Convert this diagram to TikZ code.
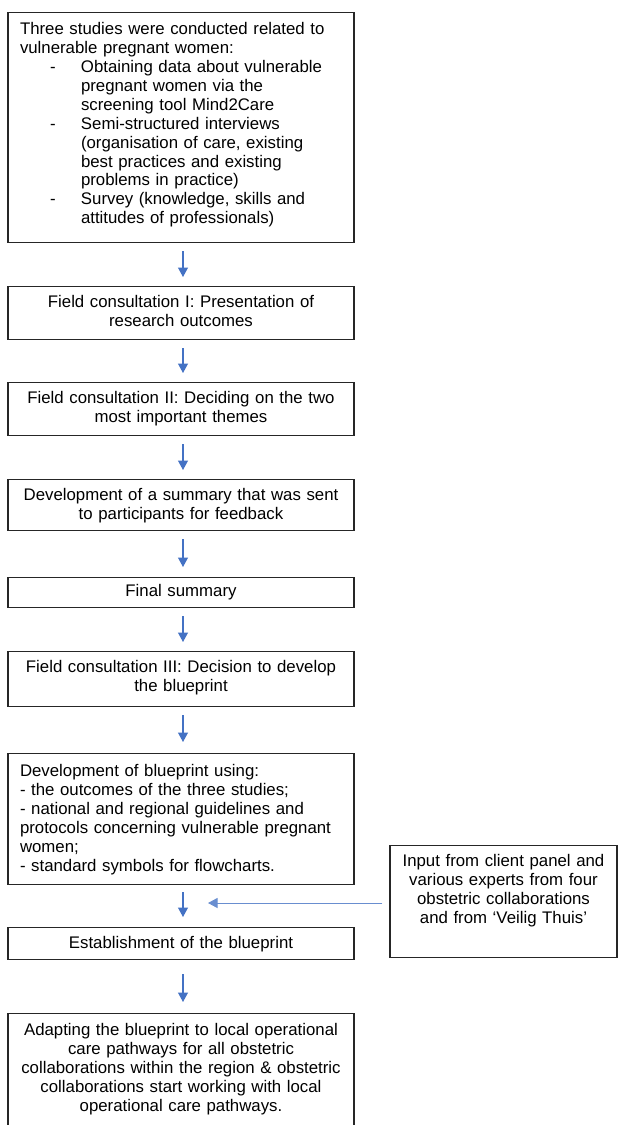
\documentclass[tikz,border=0pt]{standalone}
\usepackage{fontspec}
\setmainfont{Liberation Sans}
\usetikzlibrary{arrows.meta}
\definecolor{arrowblue}{HTML}{4472C4}
\begin{document}
\begin{tikzpicture}[x=1pt,y=-1pt,
  box/.style={draw=black!85, line width=1.4pt, inner ysep=0pt, inner xsep=8pt,
    text width=330pt, align=center, anchor=north,
    font=\fontsize{16.8}{18.9}\selectfont},
  lbox/.style={box, inner xsep=12pt, text width=322pt, align=left},
  sidebox/.style={box, text width=211pt},
  arr/.style={draw=arrowblue, line width=1.2pt, -{Triangle[width=10pt,length=9.5pt]}},
  hline/.style={draw=arrowblue!80, line width=1pt, -{Triangle[width=10pt,length=9.5pt]}},
]
\useasboundingbox (0,0) rectangle (619,1125);
\coordinate (ax) at (183,0);
\coordinate (join) at (208,903);

\node[lbox, text height=22pt, text depth=208pt] (b1) at (181,12) {%
Three studies were conducted related to\\
vulnerable pregnant women:\\
\hspace*{30pt}\makebox[31pt][l]{-}Obtaining data about vulnerable\\
\hspace*{61pt}pregnant women via the\\
\hspace*{61pt}screening tool Mind2Care\\
\hspace*{30pt}\makebox[31pt][l]{-}Semi-structured interviews\\
\hspace*{61pt}(organisation of care, existing\\
\hspace*{61pt}best practices and existing\\
\hspace*{61pt}problems in practice)\\
\hspace*{30pt}\makebox[31pt][l]{-}Survey (knowledge, skills and\\
\hspace*{61pt}attitudes of professionals)};

\node[box, text height=21pt, text depth=32pt] (b2) at (181,286)
  {Field consultation I: Presentation of\\research outcomes};
\node[box, text height=21pt, text depth=32pt] (b3) at (181,382)
  {Field consultation II: Deciding on the two\\most important themes};
\node[box, text height=21pt, text depth=30pt] (b4) at (181,479)
  {Development of a summary that was sent\\to participants for feedback};
\node[box, text height=19pt, text depth=11pt] (b5) at (181,577)
  {Final summary};
\node[box, text height=21pt, text depth=34pt] (b6) at (181,651)
  {Field consultation III: Decision to develop\\the blueprint};
\node[lbox, text height=23pt, text depth=108pt] (b7) at (181,753) {%
Development of blueprint using:\\
- the outcomes of the three studies;\\
- national and regional guidelines and\\
protocols concerning vulnerable pregnant\\
women;\\
- standard symbols for flowcharts.};
\node[box, text height=21pt, text depth=11pt] (b8) at (181,927)
  {Establishment of the blueprint};
\node[box, text height=22pt, text depth=105pt] (b9) at (181,1013)
  {Adapting the blueprint to local operational\\
   care pathways for all obstetric\\
   collaborations within the region \& obstetric\\
   collaborations start working with local\\
   operational care pathways.};

\node[sidebox, text height=21pt, text depth=91pt] (side) at (503.5,845)
  {Input from client panel and\\
   various experts from four\\
   obstetric collaborations\\
   and from ‘Veilig Thuis’};

\draw[arr, shorten <=8pt, shorten >=9pt] (b1.south -| ax) -- (b2.north -| ax);
\draw[arr, shorten <=8pt, shorten >=9pt] (b2.south -| ax) -- (b3.north -| ax);
\draw[arr, shorten <=8pt, shorten >=9pt] (b3.south -| ax) -- (b4.north -| ax);
\draw[arr, shorten <=8pt, shorten >=10pt] (b4.south -| ax) -- (b5.north -| ax);
\draw[arr, shorten <=8pt, shorten >=9pt] (b5.south -| ax) -- (b6.north -| ax);
\draw[arr, shorten <=8pt, shorten >=11pt] (b6.south -| ax) -- (b7.north -| ax);
\draw[arr, shorten <=7pt, shorten >=10pt] (b7.south -| ax) -- (b8.north -| ax);
\draw[arr, shorten <=14pt, shorten >=11pt] (b8.south -| ax) -- (b9.north -| ax);
\draw[hline, shorten <=7pt] (side.west |- join) -- (join);
\end{tikzpicture}
\end{document}
